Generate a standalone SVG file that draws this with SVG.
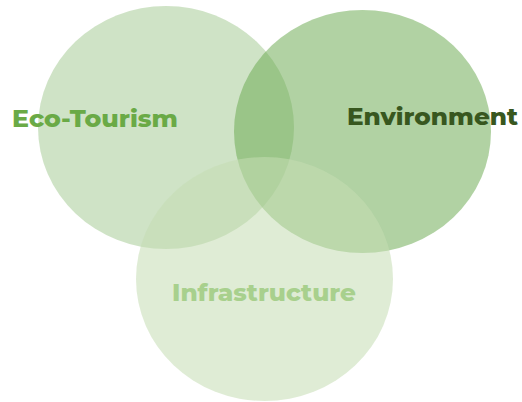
<svg xmlns="http://www.w3.org/2000/svg" width="522" height="402" viewBox="0 0 522 402">
<style>
.c{fill:#6aa84f}
.t{font-family:"Montserrat","Open Sans","Liberation Sans",sans-serif;font-weight:800;font-size:23px;text-anchor:middle}
</style>
<rect width="522" height="402" fill="#ffffff"/>
<g id="eco-tourism">
<ellipse class="c" cx="166" cy="127.5" rx="128" ry="121.5" fill-opacity="0.32"/>
</g>
<g id="environment">
<ellipse class="c" cx="362.5" cy="131.5" rx="128.5" ry="121.5" fill-opacity="0.52"/>
</g>
<g id="infrastructure">
<ellipse cx="264.5" cy="279" rx="128.5" ry="122" fill="#c4ddb3" fill-opacity="0.55"/>
</g>
<g id="labels">
<text class="t" x="95" y="127" fill="#6aaa46" textLength="166" lengthAdjust="spacingAndGlyphs">Eco-Tourism</text>
<text class="t" x="432.5" y="125" fill="#38571f" textLength="171" lengthAdjust="spacingAndGlyphs">Environment</text>
<text class="t" x="264" y="301" fill="#a8d08d" textLength="184" lengthAdjust="spacingAndGlyphs">Infrastructure</text>
</g>
</svg>
